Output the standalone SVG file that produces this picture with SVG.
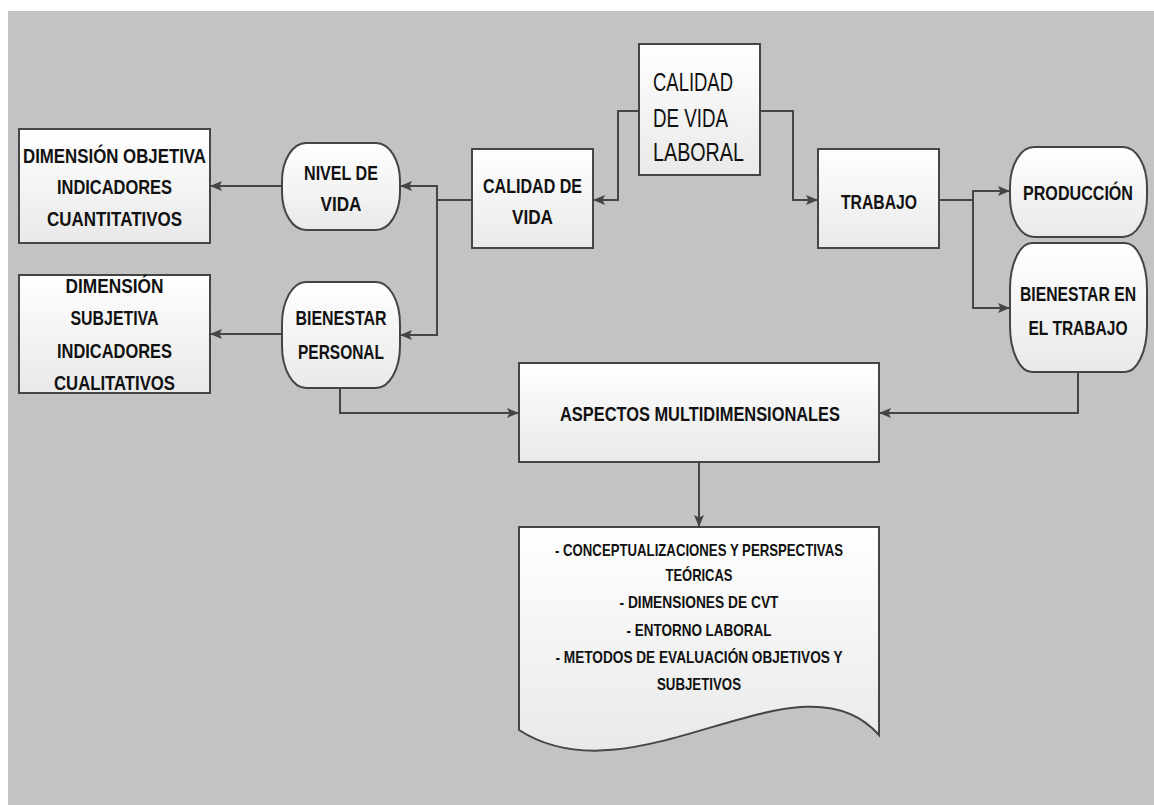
<svg xmlns="http://www.w3.org/2000/svg" width="1154" height="805" viewBox="0 0 1154 805">
  <style>
    .node { fill: url(#g); stroke: #454545; stroke-width: 2; }
    .t { font-family: "Liberation Sans", Arial, sans-serif; font-weight: bold; font-size: 20px; fill: #111; text-anchor: middle; }
    .td { font-family: "Liberation Sans", Arial, sans-serif; font-weight: bold; font-size: 17px; fill: #111; text-anchor: middle; }
    .tr { font-family: "Liberation Sans", Arial, sans-serif; font-size: 26px; fill: #111; }
    .c { fill: none; stroke: #454545; stroke-width: 2; }
  </style>
  <defs>
    <linearGradient id="g" x1="0" y1="0" x2="0" y2="1">
      <stop offset="0" stop-color="#ffffff"/>
      <stop offset="1" stop-color="#e9e9e9"/>
    </linearGradient>
    <marker id="a" markerUnits="userSpaceOnUse" markerWidth="12" markerHeight="10" viewBox="0 0 12 10" refX="11" refY="5" orient="auto">
      <path d="M0,0 L12,5 L0,10 L2.5,5 Z" fill="#454545"/>
    </marker>
  </defs>
  <rect x="0" y="0" width="1154" height="805" fill="#ffffff"/>
  <rect x="8" y="11" width="1146" height="794" fill="#c3c3c3"/>

  <g id="connectors">
    <path class="c" d="M639,111 H618 V200 H594" marker-end="url(#a)"/>
    <path class="c" d="M760,111 H793 V200 H817" marker-end="url(#a)"/>
    <path class="c" d="M472,200 H437 V186 H401" marker-end="url(#a)"/>
    <path class="c" d="M437,186 V335 H401" marker-end="url(#a)"/>
    <path class="c" d="M282,186 H211" marker-end="url(#a)"/>
    <path class="c" d="M282,334 H211" marker-end="url(#a)"/>
    <path class="c" d="M939,200 H973 V191 H1009" marker-end="url(#a)"/>
    <path class="c" d="M973,200 V308 H1009" marker-end="url(#a)"/>
    <path class="c" d="M340,388 V413 H518" marker-end="url(#a)"/>
    <path class="c" d="M1078,372 V413 H880" marker-end="url(#a)"/>
    <path class="c" d="M699,462 V526" marker-end="url(#a)"/>
  </g>

  <g id="cvl">
    <rect class="node" x="639" y="44" width="121" height="131"/>
    <text class="tr" x="653" y="91" textLength="80" lengthAdjust="spacingAndGlyphs">CALIDAD</text>
    <text class="tr" x="653" y="127" textLength="75" lengthAdjust="spacingAndGlyphs">DE VIDA</text>
    <text class="tr" x="653" y="161" textLength="91" lengthAdjust="spacingAndGlyphs">LABORAL</text>
  </g>

  <g id="calidad-vida">
    <rect class="node" x="472" y="149" width="121" height="99"/>
    <text class="t" x="532.5" y="193" textLength="99" lengthAdjust="spacingAndGlyphs">CALIDAD DE</text>
    <text class="t" x="532.5" y="224" textLength="41" lengthAdjust="spacingAndGlyphs">VIDA</text>
  </g>

  <g id="trabajo">
    <rect class="node" x="818" y="149" width="121" height="99"/>
    <text class="t" x="879" y="209" textLength="76" lengthAdjust="spacingAndGlyphs">TRABAJO</text>
  </g>

  <g id="nivel-vida">
    <rect class="node" x="282" y="143" width="118" height="87" rx="24" ry="38"/>
    <text class="t" x="341" y="180" textLength="74" lengthAdjust="spacingAndGlyphs">NIVEL DE</text>
    <text class="t" x="341" y="211" textLength="41" lengthAdjust="spacingAndGlyphs">VIDA</text>
  </g>

  <g id="bienestar-personal">
    <rect class="node" x="282" y="282" width="118" height="106" rx="24" ry="42"/>
    <text class="t" x="341" y="325" textLength="91" lengthAdjust="spacingAndGlyphs">BIENESTAR</text>
    <text class="t" x="341" y="359" textLength="86" lengthAdjust="spacingAndGlyphs">PERSONAL</text>
  </g>

  <g id="dim-objetiva">
    <rect class="node" x="19" y="129" width="191" height="114"/>
    <text class="t" x="114.5" y="163" textLength="183" lengthAdjust="spacingAndGlyphs">DIMENSIÓN OBJETIVA</text>
    <text class="t" x="114.5" y="194" textLength="115" lengthAdjust="spacingAndGlyphs">INDICADORES</text>
    <text class="t" x="114.5" y="226" textLength="135" lengthAdjust="spacingAndGlyphs">CUANTITATIVOS</text>
  </g>

  <g id="dim-subjetiva">
    <rect class="node" x="19" y="275" width="191" height="118"/>
    <text class="t" x="114.5" y="293" textLength="98" lengthAdjust="spacingAndGlyphs">DIMENSIÓN</text>
    <text class="t" x="114.5" y="325" textLength="88" lengthAdjust="spacingAndGlyphs">SUBJETIVA</text>
    <text class="t" x="114.5" y="358" textLength="115" lengthAdjust="spacingAndGlyphs">INDICADORES</text>
    <text class="t" x="114.5" y="390" textLength="121" lengthAdjust="spacingAndGlyphs">CUALITATIVOS</text>
  </g>

  <g id="produccion">
    <rect class="node" x="1010" y="147" width="137" height="90" rx="24" ry="40"/>
    <text class="t" x="1078" y="200" textLength="110" lengthAdjust="spacingAndGlyphs">PRODUCCIÓN</text>
  </g>

  <g id="bienestar-trabajo">
    <rect class="node" x="1010" y="243" width="137" height="129" rx="22" ry="46"/>
    <text class="t" x="1078" y="301" textLength="116" lengthAdjust="spacingAndGlyphs">BIENESTAR EN</text>
    <text class="t" x="1078" y="335" textLength="99" lengthAdjust="spacingAndGlyphs">EL TRABAJO</text>
  </g>

  <g id="aspectos">
    <rect class="node" x="519" y="363" width="360" height="99"/>
    <text class="t" x="700" y="421" textLength="280" lengthAdjust="spacingAndGlyphs">ASPECTOS MULTIDIMENSIONALES</text>
  </g>

  <g id="documento">
    <path class="node" d="M519,527 H879 V735 C800,645 635,805 519,730 Z"/>
    <text class="td" x="699" y="556" textLength="288" lengthAdjust="spacingAndGlyphs">- CONCEPTUALIZACIONES Y PERSPECTIVAS</text>
    <text class="td" x="699" y="581" textLength="67" lengthAdjust="spacingAndGlyphs">TEÓRICAS</text>
    <text class="td" x="699" y="608" textLength="159" lengthAdjust="spacingAndGlyphs">- DIMENSIONES DE CVT</text>
    <text class="td" x="699" y="636" textLength="145" lengthAdjust="spacingAndGlyphs">- ENTORNO LABORAL</text>
    <text class="td" x="699" y="663" textLength="287" lengthAdjust="spacingAndGlyphs">- METODOS DE EVALUACIÓN OBJETIVOS Y</text>
    <text class="td" x="699" y="690" textLength="84" lengthAdjust="spacingAndGlyphs">SUBJETIVOS</text>
  </g>
</svg>
